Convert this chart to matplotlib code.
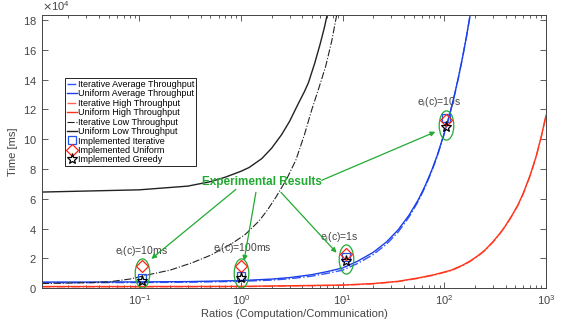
import numpy as np
import matplotlib.pyplot as plt
from matplotlib.path import Path
from matplotlib.transforms import Affine2D
from matplotlib.ticker import LogLocator, NullFormatter

plt.rcParams['font.family'] = ['Liberation Sans', 'DejaVu Sans']

# values (time in ms)
r_unif_low = [0.011, 0.1, 0.3, 0.5, 0.7, 1.0, 1.2, 1.6, 2.0, 2.5, 3.0, 3.6, 4.2, 4.6, 5.3, 6.0, 6.6, 7.0, 7.5]
t_unif_low = [6.45e4, 6.6e4, 6.85e4, 7.15e4, 7.45e4, 7.85e4, 8.1e4, 8.7e4, 9.4e4, 10.3e4, 11.2e4,
              12.3e4, 13.2e4, 13.8e4, 15.1e4, 16.4e4, 17.5e4, 18.3e4, 19.2e4]

r_iter_low = [0.011, 0.02, 0.035, 0.051, 0.08, 0.134, 0.2, 0.331, 0.5, 0.817, 1.1, 1.5, 1.8, 2.2,
              2.8, 3.46, 4.2, 4.97, 5.8, 6.8, 7.8, 8.7, 9.3]
t_iter_low = [0.3e4, 0.33e4, 0.37e4, 0.42e4, 0.6e4, 0.95e4, 1.2e4, 1.7e4, 2.2e4, 3.0e4, 3.6e4, 4.5e4,
              5.2e4, 6.1e4, 7.3e4, 8.6e4, 10.3e4, 12.0e4, 13.4e4, 14.9e4, 16.6e4, 18.3e4, 19.4e4]

r_avg = [0.011, 0.03, 0.1, 0.3, 1, 2, 3, 5, 7, 10, 14, 20, 27, 35, 45, 55.6, 65, 75, 85, 93.6,
         105, 115, 126, 137, 150, 165, 185]
t_unif_avg = [0.40e4, 0.40e4, 0.41e4, 0.43e4, 0.5e4, 0.6e4, 0.7e4, 0.9e4, 1.1e4, 1.35e4, 1.8e4,
              2.4e4, 3.1e4, 3.9e4, 4.9e4, 5.95e4, 6.9e4, 7.9e4, 8.9e4, 9.8e4, 10.9e4, 11.9e4,
              13.0e4, 14.1e4, 15.4e4, 16.9e4, 18.9e4]
t_iter_avg = [0.36e4, 0.36e4, 0.37e4, 0.39e4, 0.45e4, 0.53e4, 0.62e4, 0.8e4, 0.98e4, 1.2e4, 1.65e4,
              2.25e4, 2.95e4, 3.75e4, 4.78e4, 5.85e4, 6.82e4, 7.83e4, 8.84e4, 9.75e4, 10.86e4,
              11.87e4, 12.97e4, 14.08e4, 15.38e4, 16.88e4, 18.88e4]

r_high = [0.011, 0.1, 1, 10, 20, 35, 55.6, 80, 117, 150, 180, 215, 251, 300, 350, 396, 460, 531,
          600, 700, 800, 900, 1000]
t_unif_high = [0.1e4, 0.1e4, 0.11e4, 0.2e4, 0.3e4, 0.45e4, 0.68e4, 0.9e4, 1.2e4, 1.52e4, 1.82e4,
               2.18e4, 2.55e4, 3.1e4, 3.65e4, 4.15e4, 4.85e4, 5.6e4, 6.4e4, 7.6e4, 8.85e4, 10.2e4, 11.6e4]
t_iter_high = [0.08e4, 0.08e4, 0.09e4, 0.18e4, 0.28e4, 0.43e4, 0.65e4, 0.87e4, 1.17e4, 1.49e4,
               1.79e4, 2.15e4, 2.52e4, 3.07e4, 3.62e4, 4.12e4, 4.82e4, 5.56e4, 6.36e4, 7.56e4,
               8.81e4, 10.16e4, 11.56e4]

# implemented (experimental) results
r_exp = [0.105, 1.0, 10.7, 105]
t_exp_iter = [0.7e4, 0.8e4, 2.1e4, 11.4e4]
t_exp_unif = [1.5e4, 1.5e4, 2.3e4, 11.3e4]
t_exp_greedy = [0.5e4, 0.65e4, 1.8e4, 10.8e4]
t_ellipse = [0.98e4, 0.98e4, 1.96e4, 10.96e4]

exp_labels = ['e$_\\mathregular{i}$(c)=10ms', 'e$_\\mathregular{i}$(c)=100ms',
              'e$_\\mathregular{i}$(c)=1s', 'e$_\\mathregular{i}$(c)=10s']
label_r = [0.105, 1.02, 9.3, 89]
label_t = [2.5e4, 2.7e4, 3.4e4, 12.5e4]

arrow_from_r = [0.89, 1.40, 2.47, 6.22]
arrow_from_t = [6.63e4, 6.43e4, 6.43e4, 7.24e4]
arrow_to_r = [0.131, 1.07, 8.7, 81.6]
arrow_to_t = [1.96e4, 1.83e4, 2.37e4, 10.5e4]

fig = plt.figure(figsize=(5.62, 3.25), dpi=100)
ax = fig.add_axes([0.0747, 0.1138, 0.8968, 0.84])

ax.plot(r_avg, t_iter_avg, '-.', color='#3355ff', lw=1.0, label='Iterative Average Throughput')
ax.plot(r_avg, t_unif_avg, '-', color='#1a3fe6', lw=1.0, label='Uniform Average Throughput')
ax.plot(r_high, t_iter_high, '-.', color='#ff6655', lw=1.0, label='Iterative High Throughput')
ax.plot(r_high, t_unif_high, '-', color='#ff3319', lw=1.0, label='Uniform High Throughput')
ax.plot(r_iter_low, t_iter_low, '-.', color='#222222', lw=0.8, label='Iterative Low Throughput')
ax.plot(r_unif_low, t_unif_low, '-', color='#222222', lw=1.0, label='Uniform Low Throughput')

# green ellipses around the experimental groups
ell = Path.unit_circle().transformed(Affine2D().scale(0.5, 1.0))
ax.plot(r_exp, t_ellipse, ls='none', marker=ell, ms=21, mfc='none', mec='#22aa33', mew=0.9)

ax.plot(r_exp, t_exp_iter, ls='none', marker='s', ms=5.5, mfc='none', mec='#2255ee', mew=0.9,
        label='Implemented Iterative')
ax.plot(r_exp, t_exp_unif, ls='none', marker='D', ms=6.5, mfc='none', mec='#ff2211', mew=0.9,
        label='Implemented Uniform')
ax.plot(r_exp, t_exp_greedy, ls='none', marker='*', ms=8, mfc='none', mec='black', mew=0.9,
        label='Implemented Greedy')

for lab, x, y in zip(exp_labels, label_r, label_t):
    ax.text(x, y, lab, fontsize=7.5, color='#444444', ha='center', va='center')

ax.text(1.6, 7.1e4, 'Experimental Results', fontsize=8.5, color='#22aa33', fontweight='bold',
        ha='center', va='center')
for x0, y0, x1, y1 in zip(arrow_from_r, arrow_from_t, arrow_to_r, arrow_to_t):
    ax.annotate('', xy=(x1, y1), xytext=(x0, y0),
                arrowprops=dict(arrowstyle='-|>', color='#22aa33', lw=0.9, mutation_scale=7,
                                shrinkA=0, shrinkB=0))

ax.set_xscale('log')
ax.set_xlim(0.011, 1000)
ax.set_ylim(0, 18.35e4)
ax.set_yticks(np.arange(0, 18.1e4, 2e4))
ax.ticklabel_format(axis='y', style='sci', scilimits=(4, 4), useMathText=True)
ax.yaxis.get_offset_text().set_fontsize(8)
ax.yaxis.get_offset_text().set_color('#444444')
ax.xaxis.set_minor_locator(LogLocator(base=10, subs=np.arange(2, 10)))
ax.xaxis.set_minor_formatter(NullFormatter())

ax.tick_params(which='both', direction='in', top=True, right=True, labelsize=8,
               colors='#444444', width=0.6)
ax.tick_params(which='major', length=4)
ax.tick_params(which='minor', length=2)
for s in ax.spines.values():
    s.set_color('#444444')
    s.set_linewidth(0.7)

ax.set_xlabel('Ratios (Computation/Communication)', fontsize=8, color='#444444', labelpad=2)
ax.set_ylabel('Time [ms]', fontsize=8, color='#444444', labelpad=4)

leg = ax.legend(loc='upper left', bbox_to_anchor=(0.046, 0.769), fontsize=6.5, handlelength=1.1,
                labelspacing=0.05, borderpad=0.2, handletextpad=0.15, fancybox=False,
                framealpha=1, borderaxespad=0)
leg.get_frame().set_edgecolor('black')
leg.get_frame().set_linewidth(0.6)

fig.savefig('out.png', dpi=100)
